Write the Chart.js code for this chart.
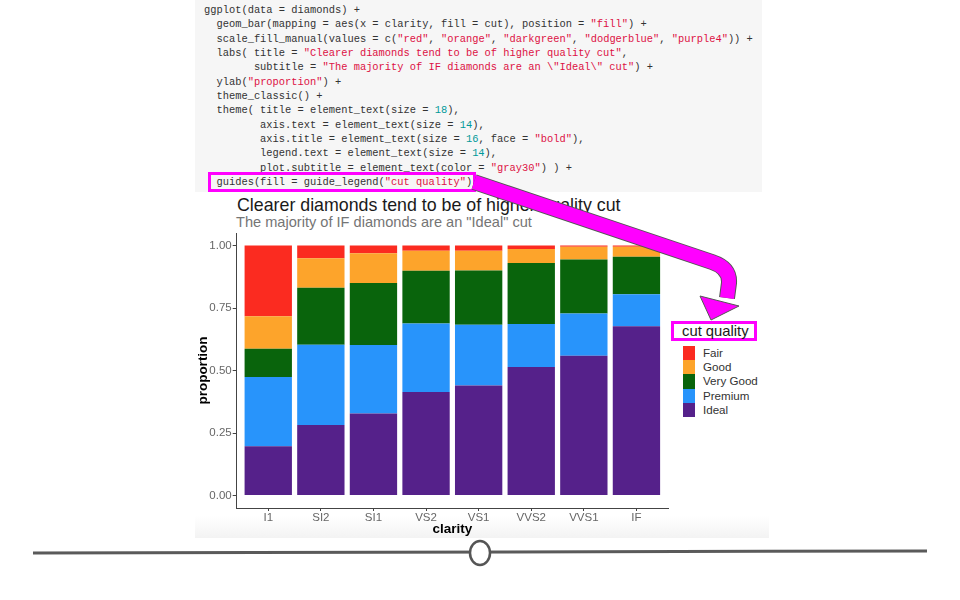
<!DOCTYPE html>
<html>
<head>
<meta charset="utf-8">
<title>cut quality</title>
<script src="https://cdn.jsdelivr.net/npm/chart.js@4.4.0/dist/chart.umd.min.js"></script>
<style>
  html, body { margin: 0; padding: 0; background: #fff; }
  body { width: 960px; height: 600px; position: relative; overflow: hidden; font-family: "Liberation Sans", Arial, sans-serif; }
  #code { position: absolute; left: 195px; top: 0; width: 567px; height: 192px; background: #f6f6f6; }
  #code pre { margin: 0; position: absolute; left: 9px; top: 3px; font-family: "Liberation Mono", monospace; font-size: 10.4px; line-height: 14.35px; color: #333; }
  .s { color: #dd1144; }
  .n { color: #009999; }
  #codeBox { position: absolute; left: 208px; top: 172px; width: 262px; height: 14px; border: 3px solid #ff00ff; }
  #shade { position: absolute; left: 195px; top: 516px; width: 574px; height: 22px; background: linear-gradient(to bottom, #fff, #f3f3f3); }
  #title { position: absolute; left: 237px; top: 195px; font-size: 17.8px; line-height: 20px; color: #1a1a1a; white-space: nowrap; }
  #subtitle { position: absolute; left: 236px; top: 213px; font-size: 14.6px; line-height: 18px; color: #757575; white-space: nowrap; }
  #chart { position: absolute; left: 195px; top: 192px; }
  #legTitle { position: absolute; left: 671px; top: 321px; width: 80px; height: 14px; border: 3px solid #ff00ff; }
  #legTitle span { position: absolute; left: 8px; top: -3px; font-size: 14.8px; line-height: 20px; color: #1a1a1a; white-space: nowrap; }
  .sw { position: absolute; left: 683px; width: 12px; height: 14.3px; }
  .lab { position: absolute; left: 703px; font-size: 11.6px; line-height: 14.3px; color: #333; white-space: nowrap; }
  #deco { position: absolute; left: 0; top: 0; pointer-events: none; }
</style>
</head>
<body>
<div id="code"><pre>ggplot(data = diamonds) +
  geom_bar(mapping = aes(x = clarity, fill = cut), position = <span class="s">"fill"</span>) +
  scale_fill_manual(values = c(<span class="s">"red"</span>, <span class="s">"orange"</span>, <span class="s">"darkgreen"</span>, <span class="s">"dodgerblue"</span>, <span class="s">"purple4"</span>)) +
  labs( title = <span class="s">"Clearer diamonds tend to be of higher quality cut"</span>,
        subtitle = <span class="s">"The majority of IF diamonds are an \"Ideal\" cut"</span>) +
  ylab(<span class="s">"proportion"</span>) +
  theme_classic() +
  theme( title = element_text(size = <span class="n">18</span>),
         axis.text = element_text(size = <span class="n">14</span>),
         axis.title = element_text(size = <span class="n">16</span>, face = <span class="s">"bold"</span>),
         legend.text = element_text(size = <span class="n">14</span>),
         plot.subtitle = element_text(color = <span class="s">"gray30"</span>) ) +
  guides(fill = guide_legend(<span class="s">"cut quality"</span>))</pre></div>
<div id="codeBox"></div>
<div id="shade"></div>
<div id="title">Clearer diamonds tend to be of higher quality cut</div>
<div id="subtitle">The majority of IF diamonds are an "Ideal" cut</div>
<canvas id="chart" width="475" height="345"></canvas>
<div id="legend"></div>
<svg id="deco" width="960" height="600">
  <path d="M474,182 L712,262 Q730,268 729,283 L727,298" fill="none" stroke="#555" stroke-width="16"/>
  <path d="M474,182 L712,262 Q730,268 729,283 L727,298" fill="none" stroke="#ff00ff" stroke-width="14"/>
  <polygon points="700,296 739,306 711,320" fill="#ff00ff" stroke="#555" stroke-width="1"/>
  <line x1="33" y1="553" x2="927" y2="551" stroke="#5a5a5a" stroke-width="3"/>
  <ellipse cx="480" cy="553" rx="10" ry="12" fill="#fff" stroke="#555" stroke-width="2.5"/>
</svg>
<script>
// ---- data (proportions) ----
const clarity = ['I1', 'SI2', 'SI1', 'VS2', 'VS1', 'VVS2', 'VVS1', 'IF'];
const cutLevels = ['Fair', 'Good', 'Very Good', 'Premium', 'Ideal'];
const cutColors = ['#fb2b20', '#fda42b', '#09640c', '#2894fb', '#55218a'];
const fair     = [0.283, 0.051, 0.031, 0.021, 0.021, 0.014, 0.005, 0.005];
const good     = [0.130, 0.118, 0.119, 0.080, 0.079, 0.056, 0.051, 0.040];
const veryGood = [0.113, 0.228, 0.248, 0.211, 0.217, 0.244, 0.216, 0.150];
const premium  = [0.277, 0.321, 0.274, 0.274, 0.243, 0.172, 0.169, 0.128];
const ideal    = [0.197, 0.282, 0.328, 0.414, 0.440, 0.514, 0.559, 0.677];
const yTicks = [0, 0.25, 0.5, 0.75, 1];

const series = [fair, good, veryGood, premium, ideal];

// ideal sits at the bottom of each bar, fair on top
const datasets = cutLevels.map((name, k) => ({
    label: name,
    data: series[k].map((v, i) => ({ x: i, y: v })),
    backgroundColor: cutColors[k],
    borderWidth: 0,
    categoryPercentage: 0.9,
    barPercentage: 1.0
})).reverse();

const tickFont = { family: '"Liberation Sans", Arial, sans-serif', size: 11.5 };
const titleFont = { family: '"Liberation Sans", Arial, sans-serif', size: 13.5, weight: 'bold', lineHeight: 1.2 };

new Chart(document.getElementById('chart'), {
    type: 'bar',
    data: { datasets: datasets },
    options: {
        responsive: false,
        animation: false,
        layout: { padding: { top: 41, right: 2, bottom: 0, left: 0 } },
        plugins: { legend: { display: false }, tooltip: { enabled: false } },
        scales: {
            x: {
                type: 'linear', min: -0.6, max: 7.6, stacked: true, offset: false,
                afterBuildTicks: s => { s.ticks = clarity.map((c, i) => ({ value: i })); },
                afterFit: s => { s.height = 29; },
                ticks: { callback: v => clarity[v], font: tickFont, color: '#666', padding: 0, maxRotation: 0, autoSkip: false },
                grid: { offset: false, drawOnChartArea: false, tickLength: 3, color: '#444' },
                border: { color: '#444', width: 1 },
                title: { display: true, text: 'clarity', font: titleFont, color: '#000', padding: 0 }
            },
            y: {
                min: -0.05, max: 1.05, stacked: true,
                afterBuildTicks: s => { s.ticks = yTicks.map(v => ({ value: v })); },
                afterFit: s => { s.width = 41.7; },
                ticks: { callback: v => v.toFixed(2), font: tickFont, color: '#666', padding: 1 },
                grid: { drawOnChartArea: false, tickLength: 4, color: '#444' },
                border: { color: '#444', width: 1 },
                title: { display: true, text: 'proportion', font: titleFont, color: '#000', padding: 0 }
            }
        }
    }
});

// ---- legend ----
const legend = document.getElementById('legend');
legend.innerHTML = '<div id="legTitle"><span>cut quality</span></div>';
cutLevels.forEach((name, k) => {
    const top = 345.7 + k * 14.3;
    legend.innerHTML += `<div class="sw" style="top:${top}px;background:${cutColors[k]}"></div>` +
                        `<div class="lab" style="top:${top}px">${name}</div>`;
});
</script>
</body>
</html>
